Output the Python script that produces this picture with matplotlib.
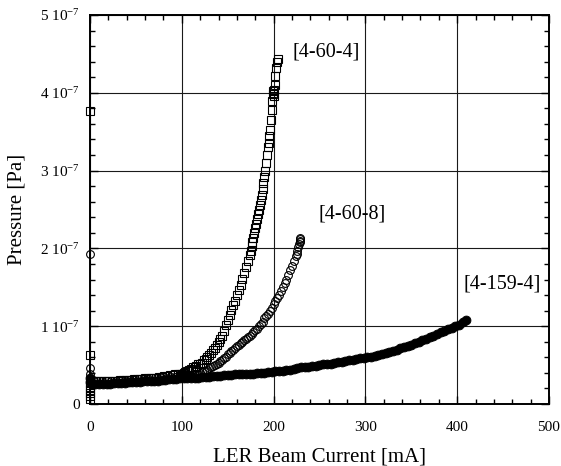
import numpy as np
import matplotlib.pyplot as plt
from matplotlib.ticker import MultipleLocator, FuncFormatter

plt.rcParams['font.family'] = ['Liberation Serif', 'DejaVu Serif']
plt.rcParams['mathtext.fontset'] = 'custom'
plt.rcParams['mathtext.rm'] = 'Liberation Serif'
plt.rcParams['mathtext.it'] = 'Liberation Serif:italic'

# pressure values are in units of 1e-7 Pa, current in mA

# [4-60-4]  (open squares)
cur_a = [0, 0, 0, 0, 0, 0, 0, 0, 0,
         3, 6, 9, 12, 15, 18, 21, 24, 27, 30, 33, 36, 39, 42, 45, 48, 51, 54, 57,
         60, 63, 66, 69, 72, 75, 78, 81, 84, 87, 90, 93, 96, 98,
         100, 102, 104, 106, 108, 110, 112, 114, 116, 118, 120, 122, 124, 126,
         128, 130, 132, 134, 136, 138, 140, 142, 144, 146, 148, 150, 152, 154,
         156, 158, 160, 162, 164, 166, 168, 170, 172, 174, 175, 176, 177, 178,
         179, 180, 181, 182, 183, 184, 185, 186, 187, 188, 189, 190, 191, 192,
         193, 194, 194.5, 195, 196, 197, 198, 198.5, 199, 199.5, 200, 200,
         201, 202, 203, 204, 205]
p_a = [3.77, 0.63, 0.31, 0.27, 0.22, 0.18, 0.14, 0.10, 0.06,
       0.30, 0.29, 0.29, 0.29, 0.29, 0.30, 0.30, 0.30, 0.30, 0.30, 0.31, 0.31,
       0.31, 0.31, 0.31, 0.32, 0.32, 0.32, 0.32, 0.33, 0.33, 0.33, 0.34, 0.34,
       0.35, 0.35, 0.36, 0.36, 0.37, 0.37, 0.38, 0.38, 0.38,
       0.39, 0.40, 0.41, 0.43, 0.44, 0.45, 0.47, 0.48, 0.49, 0.51, 0.52, 0.53,
       0.56, 0.58, 0.61, 0.63, 0.66, 0.69, 0.72, 0.76, 0.80, 0.84, 0.88, 0.94,
       1.01, 1.08, 1.15, 1.21, 1.27, 1.33, 1.40, 1.46, 1.53, 1.61, 1.68, 1.76,
       1.84, 1.92, 1.97, 2.03, 2.08, 2.14, 2.20, 2.26, 2.32, 2.38, 2.44, 2.50,
       2.56, 2.62, 2.69, 2.76, 2.84, 2.92, 3.00, 3.10, 3.20, 3.30, 3.36, 3.44,
       3.52, 3.65, 3.78, 3.90, 3.98, 4.02, 3.96, 4.04, 4.10, 4.22, 4.32, 4.40,
       4.44]

# [4-60-8]  (open circles)
cur_b = [0, 0, 0, 0,
         3, 8, 13, 18, 23, 28, 33, 38, 43, 48, 53, 58, 63, 68, 73, 78, 83, 88,
         93, 98, 103, 108,
         110, 112, 114, 116, 118, 120, 122, 124, 126, 128, 130, 132, 134, 136,
         138, 140, 142, 144, 146, 148, 150, 152, 154, 156, 158, 160, 162, 164,
         166, 168, 170, 172, 174, 176, 178, 180, 182, 184, 186, 188, 190, 192,
         194, 196, 198, 200, 202, 204, 206, 208, 210, 212, 214, 216, 218, 220,
         222, 224, 225, 226, 227, 228, 228.5, 229, 228.5, 229]
p_b = [1.93, 0.46, 0.38, 0.30,
       0.31, 0.30, 0.30, 0.30, 0.30, 0.30, 0.31, 0.31, 0.31, 0.31, 0.32, 0.32,
       0.32, 0.33, 0.33, 0.34, 0.34, 0.35, 0.35, 0.35, 0.35, 0.36,
       0.36, 0.37, 0.37, 0.38, 0.39, 0.40, 0.41, 0.42, 0.43, 0.44, 0.46, 0.47,
       0.49, 0.50, 0.52, 0.53, 0.55, 0.57, 0.59, 0.61, 0.64, 0.66, 0.68, 0.70,
       0.72, 0.74, 0.76, 0.78, 0.80, 0.82, 0.84, 0.86, 0.88, 0.90, 0.93, 0.95,
       0.97, 1.00, 1.03, 1.06, 1.10, 1.13, 1.16, 1.20, 1.24, 1.28, 1.32, 1.36,
       1.40, 1.45, 1.50, 1.55, 1.60, 1.66, 1.72, 1.78, 1.84, 1.90, 1.93, 1.97,
       2.02, 2.06, 2.10, 2.12, 2.08, 2.13]

# [4-159-4]  (filled circles)
cur_c = [0, 0, 2, 6, 10, 14, 18, 22, 26, 30, 34, 38, 42, 46, 50, 54, 58, 62,
         66, 70, 74, 78, 82, 86, 90, 94, 98, 102, 106, 110, 114, 118, 122, 126,
         130, 134, 138, 142, 146, 150, 154, 158, 162, 166, 170, 174, 178, 182,
         186, 190, 194, 198, 202, 206, 210, 214, 218, 222, 226, 230, 234, 238,
         242, 246, 250, 254, 258, 262, 266, 270, 274, 278, 282, 286, 290, 294,
         298, 302, 306, 310, 314, 318, 322, 326, 330, 334, 338, 342, 346, 350,
         354, 358, 362, 366, 370, 374, 378, 382, 386, 390, 394, 398, 402, 406,
         410]
p_c = [0.34, 0.28, 0.27, 0.26, 0.26, 0.26, 0.26, 0.26, 0.27, 0.27, 0.27, 0.27,
       0.28, 0.28, 0.28, 0.28, 0.29, 0.29, 0.29, 0.30, 0.30, 0.31, 0.31, 0.32,
       0.32, 0.32, 0.33, 0.33, 0.33, 0.34, 0.34, 0.34, 0.35, 0.35, 0.35, 0.36,
       0.36, 0.36, 0.37, 0.37, 0.37, 0.38, 0.38, 0.38, 0.39, 0.39, 0.39, 0.40,
       0.40, 0.40, 0.41, 0.41, 0.42, 0.42, 0.43, 0.44, 0.44, 0.45, 0.46, 0.47,
       0.47, 0.48, 0.49, 0.49, 0.50, 0.51, 0.51, 0.52, 0.53, 0.54, 0.54, 0.55,
       0.56, 0.57, 0.58, 0.59, 0.59, 0.60, 0.61, 0.62, 0.63, 0.64, 0.65, 0.67,
       0.68, 0.70, 0.72, 0.73, 0.74, 0.76, 0.78, 0.80, 0.82, 0.84, 0.86, 0.88,
       0.90, 0.92, 0.94, 0.96, 0.98, 1.00, 1.02, 1.05, 1.08]

labels = ['[4-60-4]', '[4-60-8]', '[4-159-4]']
label_pos = [(221, 4.53), (249, 2.44), (407, 1.54)]

fig = plt.figure(figsize=(5.61, 4.66), dpi=100)
ax = fig.add_axes([0.1604, 0.133, 0.8182, 0.8348])

ax.plot(cur_a, np.array(p_a) * 1e-7, ls='none', marker='s', ms=5.4,
        mfc='none', mec='black', mew=0.8, clip_on=False)
ax.plot(cur_b, np.array(p_b) * 1e-7, ls='none', marker='o', ms=5.6,
        mfc='none', mec='black', mew=0.8, clip_on=False)
ax.plot(cur_c, np.array(p_c) * 1e-7, ls='none', marker='o', ms=6.4,
        mfc='black', mec='black', mew=0.6, clip_on=False)

for txt, (x, y) in zip(labels, label_pos):
    ax.text(x, y * 1e-7, txt, fontsize=14.5, ha='left', va='center')

ax.set_xlim(0, 500)
ax.set_ylim(0, 5e-7)
ax.xaxis.set_major_locator(MultipleLocator(100))
ax.xaxis.set_minor_locator(MultipleLocator(20))
ax.yaxis.set_major_locator(MultipleLocator(1e-7))
ax.yaxis.set_minor_locator(MultipleLocator(2e-8))


def pressure_fmt(v, pos):
    n = int(round(v / 1e-7))
    if n == 0:
        return '0'
    return r'%d 10$^{-7}$' % n


ax.yaxis.set_major_formatter(FuncFormatter(pressure_fmt))
ax.grid(True, which='major', color='0.1', lw=0.8)
ax.set_axisbelow(True)

ax.tick_params(which='both', direction='in', top=True, right=True, width=1.0)
ax.tick_params(which='major', length=6)
ax.tick_params(which='minor', length=3.5)
ax.tick_params(axis='x', labelsize=11, pad=12)
ax.tick_params(axis='y', labelsize=11, pad=7)
for s in ax.spines.values():
    s.set_linewidth(1.4)

ax.set_xlabel('LER Beam Current [mA]', fontsize=15, labelpad=10)
ax.set_ylabel('Pressure [Pa]', fontsize=15, labelpad=10)

fig.savefig('out.png', dpi=100)
